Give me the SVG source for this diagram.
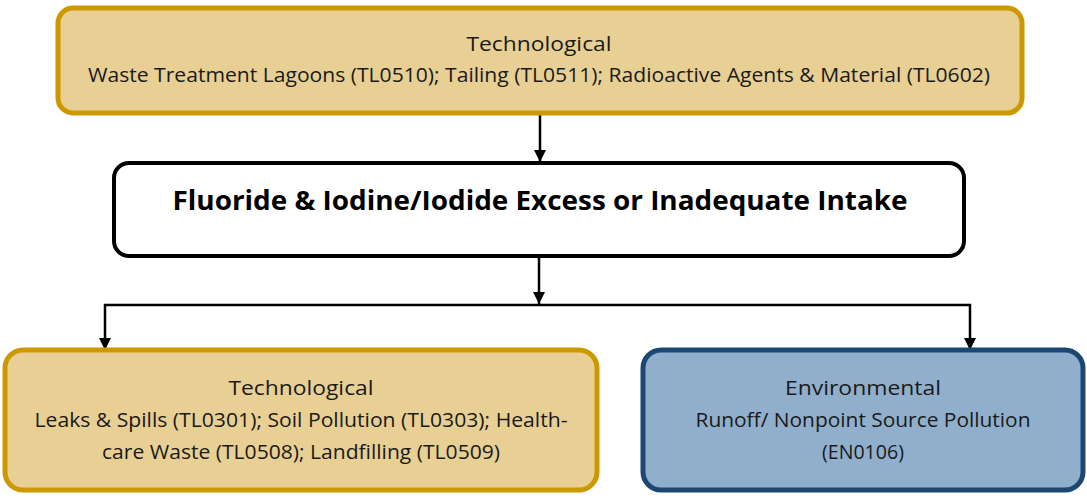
<svg xmlns="http://www.w3.org/2000/svg" width="1087" height="502" viewBox="0 0 1087 502">
<style>
.t{font-family:"Open Sans","Liberation Sans",sans-serif;font-size:20px;fill:#1a1a1a;text-anchor:middle}
.b{font-family:"Open Sans","Liberation Sans",sans-serif;font-size:26px;font-weight:bold;fill:#000;text-anchor:middle}
.gold{fill:#E8CF93;stroke:#CC9A00;stroke-width:5}
.blue{fill:#8FAFCD;stroke:#1D4672;stroke-width:5}
.mid{fill:#fff;stroke:#000;stroke-width:4}
.c{fill:none;stroke:#000;stroke-width:2.5}
</style>
<defs>
<marker id="ah" viewBox="0 0 12 12" refX="12" refY="6" markerWidth="12" markerHeight="12" markerUnits="userSpaceOnUse" orient="auto"><path d="M0,0L12,6L0,12z" fill="#000"/></marker>
</defs>
<g id="connectors">
<path class="c" d="M540,114V162" marker-end="url(#ah)"/>
<path class="c" d="M539,257V304" marker-end="url(#ah)"/>
<path class="c" d="M539,305H105V350" marker-end="url(#ah)"/>
<path class="c" d="M539,305H970V350" marker-end="url(#ah)"/>
</g>
<g id="top">
<rect class="gold" x="58" y="8" width="964" height="105" rx="15"/>
<text class="t" x="539" y="51" textLength="145" lengthAdjust="spacingAndGlyphs">Technological</text>
<text class="t" x="539" y="82" textLength="902" lengthAdjust="spacingAndGlyphs">Waste Treatment Lagoons (TL0510); Tailing (TL0511); Radioactive Agents &amp; Material (TL0602)</text>
</g>
<g id="middle">
<rect class="mid" x="114" y="163" width="850" height="93" rx="15"/>
<text class="b" x="540" y="210" textLength="735" lengthAdjust="spacingAndGlyphs">Fluoride &amp; Iodine/Iodide Excess or Inadequate Intake</text>
</g>
<g id="bottomLeft">
<rect class="gold" x="5" y="350" width="592" height="140" rx="18"/>
<text class="t" x="301" y="395" textLength="145" lengthAdjust="spacingAndGlyphs">Technological</text>
<text class="t" x="301" y="427" textLength="533" lengthAdjust="spacingAndGlyphs">Leaks &amp; Spills (TL0301); Soil Pollution (TL0303); Health-</text>
<text class="t" x="301" y="459" textLength="398" lengthAdjust="spacingAndGlyphs">care Waste (TL0508); Landfilling (TL0509)</text>
</g>
<g id="bottomRight">
<rect class="blue" x="643" y="350" width="440" height="140" rx="18"/>
<text class="t" x="863" y="395" textLength="156" lengthAdjust="spacingAndGlyphs">Environmental</text>
<text class="t" x="863" y="427" textLength="335" lengthAdjust="spacingAndGlyphs">Runoff/ Nonpoint Source Pollution</text>
<text class="t" x="863" y="459" textLength="82" lengthAdjust="spacingAndGlyphs">(EN0106)</text>
</g>
</svg>
